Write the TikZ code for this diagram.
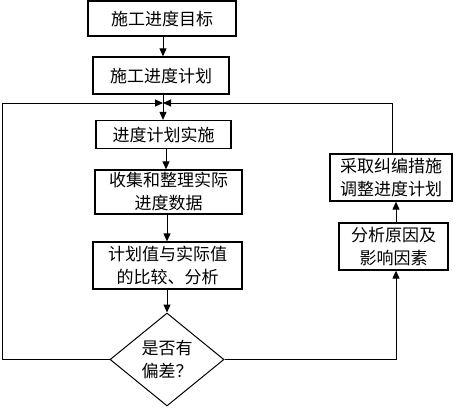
\documentclass[tikz,border=0pt]{standalone}
\usepackage{fontspec}
\newfontfamily\cjk{Noto Sans CJK SC}
\usetikzlibrary{shapes.geometric,arrows.meta}
\begin{document}
\begin{tikzpicture}[x=1pt,y=-1pt,
  every node/.style={font=\cjk\fontsize{17}{23}\selectfont, align=center, inner sep=0pt},
  box/.style={draw, line width=1.3pt, rectangle},
  line/.style={line width=1pt},
  arr/.style={line width=1pt, -{Triangle[length=8pt,width=7pt]}}]
\useasboundingbox (0,0) rectangle (465,407);
\node[box, minimum width=148pt, minimum height=35pt] (b1) at (162,18.5) {施工进度目标};
\node[box, minimum width=136pt, minimum height=37pt] (b2) at (161,75.5) {施工进度计划};
\node[box, minimum width=135pt, minimum height=28pt] (b3) at (163.5,134.5) {进度计划实施};
\node[box, minimum width=147pt, minimum height=44pt] (b4) at (168.5,192) {收集和整理实际\\进度数据};
\node[box, minimum width=149pt, minimum height=47pt] (b5) at (167.5,265.5) {计划值与实际值\\的比较、分析};
\node[draw, line width=1pt, shape=diamond, minimum width=114pt, minimum height=93pt] (d) at (167,359.5) {是否有\\偏差？};
\node[box, minimum width=109pt, minimum height=47pt] (b6) at (393.5,246.5) {分析原因及\\影响因素};
\node[box, minimum width=122pt, minimum height=47pt] (b7) at (391,177.5) {采取纠编措施\\调整进度计划};
\coordinate (J) at (163,103);
\coordinate (L) at (2,103);
\coordinate (R) at (392,103);
\coordinate (DL) at (2,359.5);
\coordinate (DR) at (396,359.5);
\draw[arr] (b1.south -| 163,0) -- (b2.north -| 163,0);
\draw[line] (b2.south -| J) -- (J);
\draw[arr] (J) -- (b3.north -| J);
\draw[arr] (b3.south -| 166,0) -- (b4.north -| 166,0);
\draw[arr] (b4.south -| 167,0) -- (b5.north -| 167,0);
\draw[arr] (b5.south -| d) -- (d.north);
\draw[arr] (d.west) -- (DL) -- (L) -- (J);
\draw[arr] (d.east) -- (DR) -- (b6.south -| DR);
\draw[arr] (b6.north -| DR) -- (b7.south -| DR);
\draw[arr] (b7.north -| R) -- (R) -- (J);
\end{tikzpicture}
\end{document}
